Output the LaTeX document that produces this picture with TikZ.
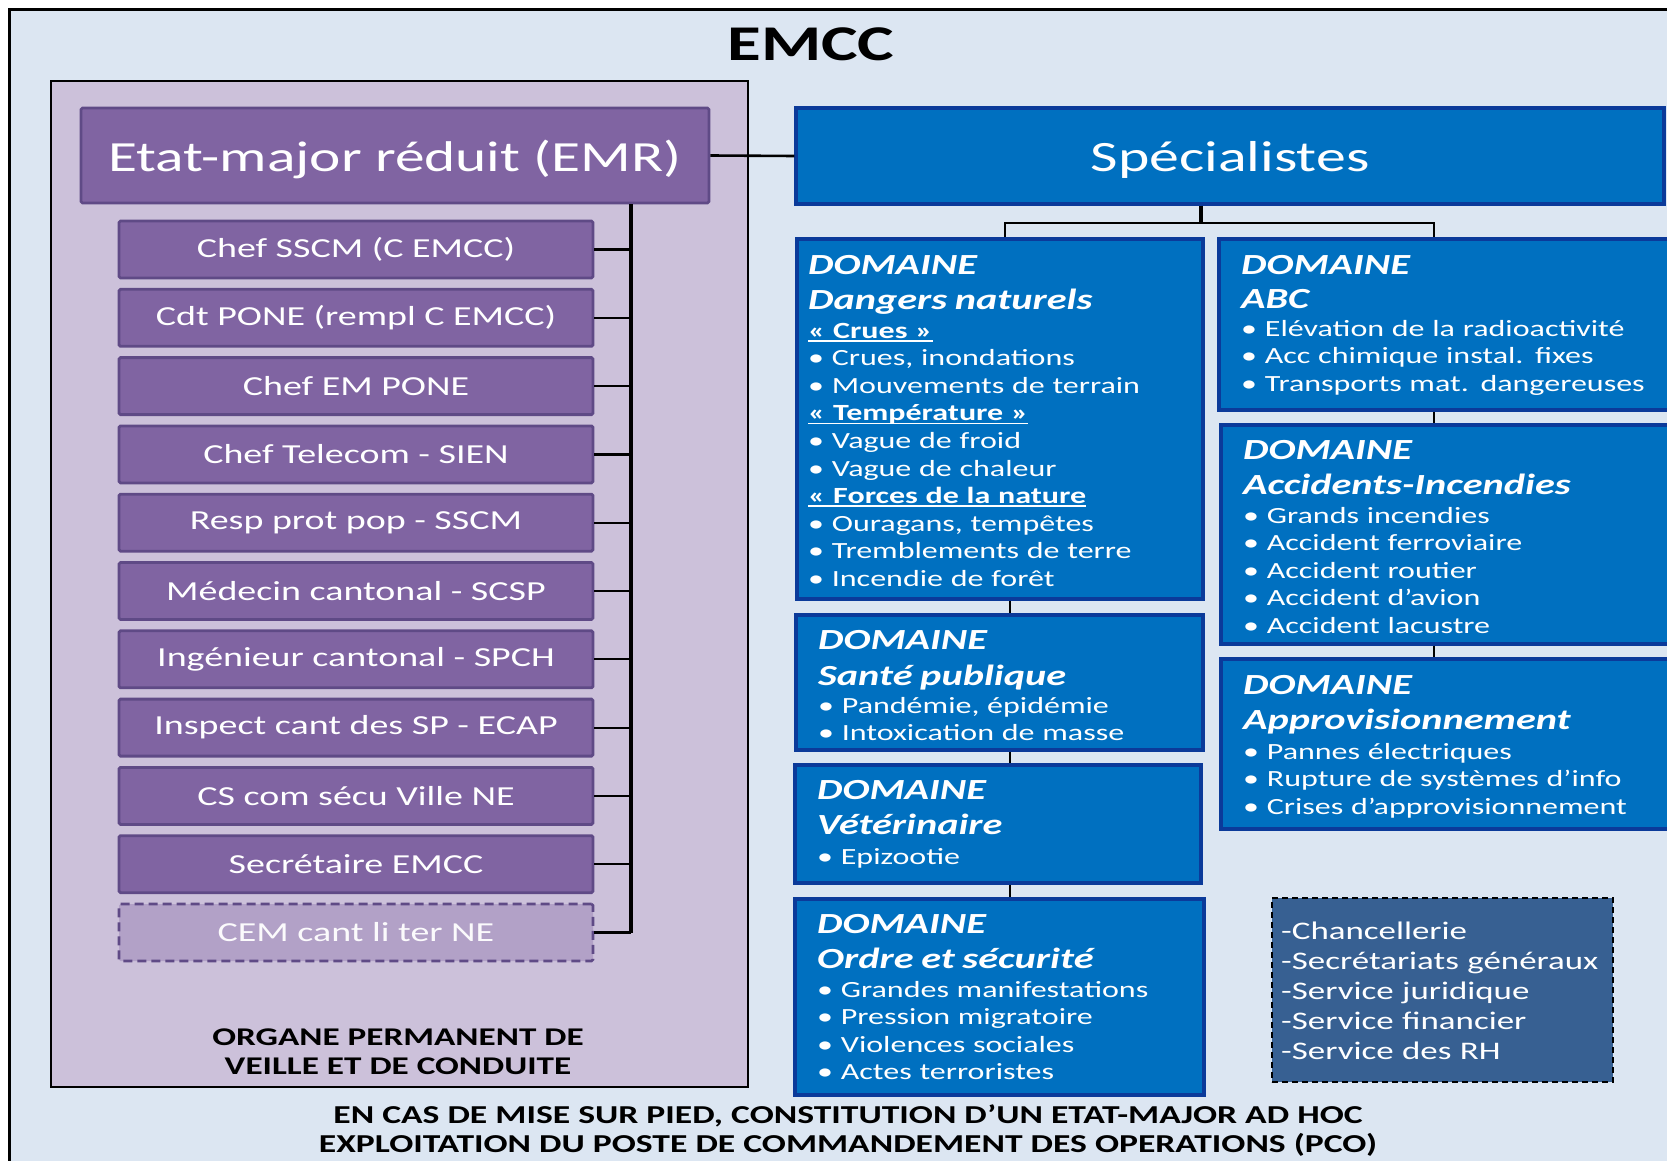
\documentclass[tikz,border=0pt]{standalone}
\usepackage{fontspec}
\setmainfont{Carlito}[FakeStretch=1.38]
\definecolor{bgc}{HTML}{DCE6F2}
\definecolor{purpFrame}{HTML}{CCC1DA}
\definecolor{purpF}{HTML}{8064A2}
\definecolor{purpB}{HTML}{5F4A86}
\definecolor{purpD}{HTML}{B2A1C7}
\definecolor{blueF}{HTML}{0070C0}
\definecolor{blueB}{HTML}{0B3A9A}
\definecolor{svcF}{HTML}{376092}
\newcommand\domh[1]{\leavevmode{\fontsize{29.2}{29}\selectfont\bfseries\itshape #1}}
\newcommand\ulh[1]{\leavevmode\begingroup\setbox0=\hbox{\bfseries #1}\rlap{\rule[-3.5pt]{\wd0}{1.8pt}}\box0\endgroup}
\tikzset{
  conn/.style={draw=black, line width=2.6pt},
  pbox/.style={draw=purpB, fill=purpF, line width=2.8pt, rounded corners=1.5pt,
    minimum width=474pt, minimum height=57pt, inner sep=0pt, text=white,
    font=\fontsize{27.5}{33}\selectfont},
  pdash/.style={pbox, fill=purpD, dash pattern=on 9pt off 5pt, text=white!95!purpD},
  bbox/.style={draw=blueB, fill=blueF, line width=3.2pt, inner sep=0pt},
  dtext/.style={anchor=base west, inner sep=0pt, text=white, align=left,
    text width=460pt, font=\fontsize{23.2}{27.6}\selectfont},
}
\begin{document}
\begin{tikzpicture}[x=1pt,y=-1pt]
\useasboundingbox (0,0) rectangle (1667,1161);
\fill[white] (0,0) rectangle (1667,1161);
% outer frame
\draw[fill=bgc, line width=3pt] (9,10) rectangle (1710,1200);
\node[font=\fontsize{50}{60}\selectfont\bfseries, anchor=base, inner sep=0pt] (title) at (811,61) {EMCC};
% purple frame
\draw[fill=purpFrame, line width=2.8pt] (51,81) rectangle (748,1087);
\node[pbox, minimum width=628pt, minimum height=95pt, text depth=0pt, font=\fontsize{43}{48}\selectfont] (emr) at (395,155.5) {Etat-major réduit (EMR)};
\coordinate (vl) at (631,0);
\foreach \t [count=\i from 0] in {Chef SSCM (C EMCC), Cdt PONE (rempl C EMCC), Chef EM PONE, Chef Telecom - SIEN, Resp prot pop - SSCM, Médecin cantonal - SCSP, Ingénieur cantonal - SPCH, Inspect cant des SP - ECAP, CS com sécu Ville NE, Secrétaire EMCC}{
  \node[pbox] (p\i) at (356,249.5+68.3*\i) {\t};
  \draw[line width=2.2pt] (p\i.east) -- (p\i.east -| vl);
}
\node[pdash] (p10) at (356,932.5) {CEM cant li ter NE};
\draw[line width=2.2pt] (p10.east) -- (p10.east -| vl);
\draw[line width=3.2pt] (vl |- emr.south) -- (vl |- p10.east);
\node[font=\fontsize{25.5}{29}\selectfont\bfseries, align=center, anchor=base, inner sep=0pt] (organe) at (398,1074) {ORGANE PERMANENT DE\\VEILLE ET DE CONDUITE};
% Specialistes
\node[bbox, minimum width=868pt, minimum height=96pt, text=white, text depth=0pt, font=\fontsize{43.3}{48}\selectfont] (spec) at (1230,156) {Spécialistes};
\draw[conn] (emr.east) -- (spec.west);
% domain boxes
\node[bbox, minimum width=406pt, minimum height=360pt] (dn) at (1000,419) {};
\node[bbox, minimum width=471pt, minimum height=171pt] (abc) at (1454.5,324.5) {};
\node[bbox, minimum width=469pt, minimum height=219pt] (acc) at (1455.5,534.5) {};
\node[bbox, minimum width=469pt, minimum height=170pt] (app) at (1455.5,744) {};
\node[bbox, minimum width=407pt, minimum height=135pt] (sante) at (999.5,682.5) {};
\node[bbox, minimum width=406pt, minimum height=118pt] (vet) at (998,824) {};
\node[bbox, minimum width=409pt, minimum height=196pt] (ordre) at (999.5,997) {};
\node[draw=black, fill=svcF, line width=2pt, dash pattern=on 6pt off 4pt, minimum width=341pt, minimum height=184pt, inner sep=0pt] (svc) at (1442.5,990) {};
% connectors
\coordinate (br) at (1201,223);
\coordinate (lc) at (1005,0);
\coordinate (lc2) at (1010,0);
\coordinate (rc) at (1434,0);
\draw[line width=3.5pt] (br |- spec.south) -- (br);
\draw[line width=2.6pt] (lc |- dn.north) -- (lc |- br) -- (rc |- br) -- (rc |- abc.north);
\draw[conn] (lc2 |- dn.south) -- (lc2 |- sante.north);
\draw[conn] (lc2 |- sante.south) -- (lc2 |- vet.north);
\draw[conn] (lc2 |- vet.south) -- (lc2 |- ordre.north);
\draw[conn] (rc |- abc.south) -- (rc |- acc.north);
\draw[conn] (rc |- acc.south) -- (rc |- app.north);
% domain texts
\node[dtext] (dnT) at (808,274) {\domh{DOMAINE}\\[7.4pt]\domh{Dangers naturels}\\[1.4pt]\ulh{« Crues »}\\• Crues, inondations\\• Mouvements de terrain\\\ulh{« Température »}\\• Vague de froid\\• Vague de chaleur\\\ulh{« Forces de la nature}\\• Ouragans, tempêtes\\• Tremblements de terre\\• Incendie de forêt};
\node[dtext] (abcT) at (1241,274) {\domh{DOMAINE}\\[6.4pt]\domh{ABC}\\[0.4pt]• Elévation de la radioactivité\\• Acc chimique instal. fixes\\• Transports mat. dangereuses};
\node[dtext] (accT) at (1243,459) {\domh{DOMAINE}\\[7.4pt]\domh{Accidents-Incendies}\\[1.4pt]• Grands incendies\\• Accident ferroviaire\\• Accident routier\\• Accident d’avion\\• Accident lacustre};
\node[dtext] (appT) at (1243,694) {\domh{DOMAINE}\\[7.4pt]\domh{Approvisionnement}\\[2.4pt]• Pannes électriques\\• Rupture de systèmes d’info\\• Crises d’approvisionnement};
\node[dtext] (santeT) at (818,649) {\domh{DOMAINE}\\[8.4pt]\domh{Santé publique}\\[0.4pt]• Pandémie, épidémie\\• Intoxication de masse};
\node[dtext] (vetT) at (817,799) {\domh{DOMAINE}\\[7.4pt]\domh{Vétérinaire}\\[2.4pt]• Epizootie};
\node[dtext] (ordreT) at (817,933) {\domh{DOMAINE}\\[7.4pt]\domh{Ordre et sécurité}\\[1.4pt]• Grandes manifestations\\• Pression migratoire\\• Violences sociales\\• Actes terroristes};
\node[dtext, font=\fontsize{25.3}{30}\selectfont] (svcT) at (1281,939) {-Chancellerie\\-Secrétariats généraux\\-Service juridique\\-Service financier\\-Service des RH};
\node[font=\fontsize{25.8}{29}\selectfont\bfseries, align=center, anchor=base, inner sep=0pt] (bottom) at (848,1152) {EN CAS DE MISE SUR PIED, CONSTITUTION D’UN ETAT-MAJOR AD HOC\\EXPLOITATION DU POSTE DE COMMANDEMENT DES OPERATIONS (PCO)};
\end{tikzpicture}
\end{document}
